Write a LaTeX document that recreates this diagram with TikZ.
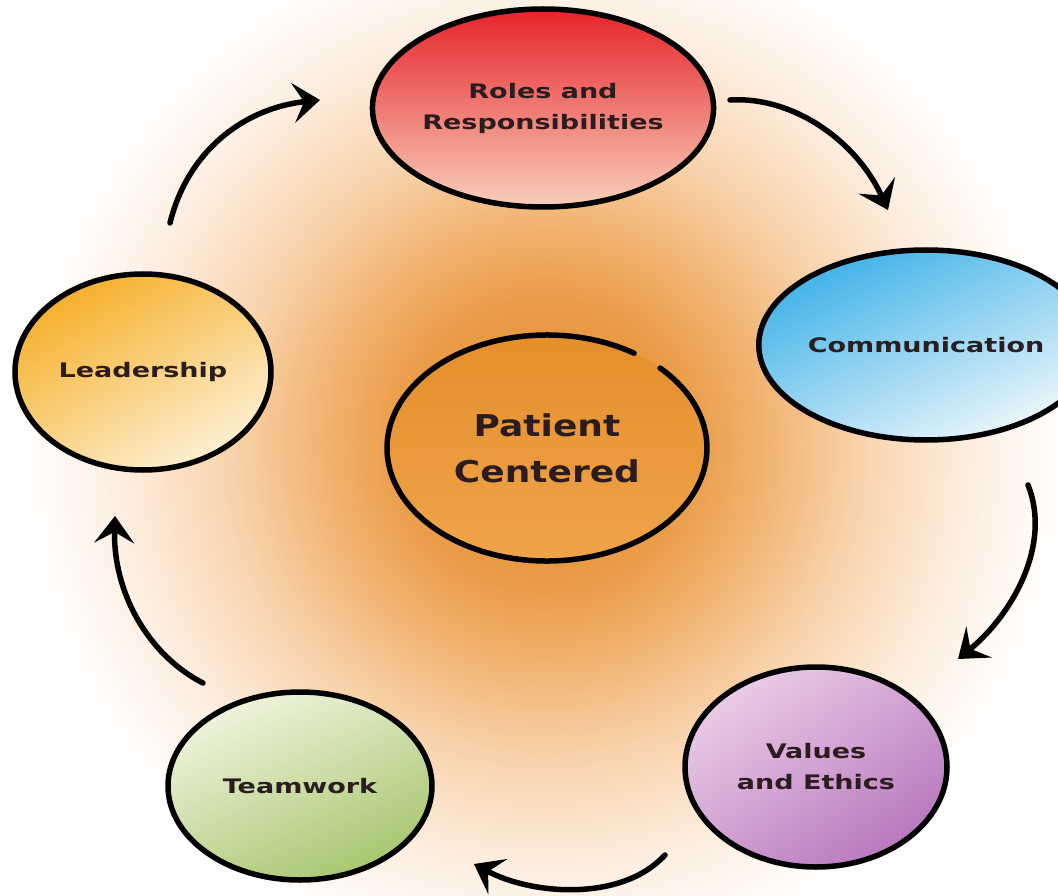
\documentclass[tikz,border=0pt]{standalone}
\usepackage{fontspec}
\newfontfamily\lblfont{DejaVu Sans}[FakeStretch=1.35]
\newfontfamily\ctrfont{DejaVu Sans}[FakeStretch=1.2]
\usetikzlibrary{shapes.geometric,arrows.meta,calc}
\definecolor{gcA}{HTML}{E58C2C}
\definecolor{gcB}{HTML}{EA9C48}
\definecolor{gcC}{HTML}{F2B676}
\definecolor{gcD}{HTML}{F8D2AA}
\definecolor{gcE}{HTML}{FDECDC}
\definecolor{txt}{HTML}{2B1D1F}
\definecolor{redT}{HTML}{E6232A}
\definecolor{redB}{HTML}{F9D0BC}
\definecolor{bluT}{HTML}{3FB2E8}
\definecolor{bluB}{HTML}{EEF7FB}
\definecolor{purT}{HTML}{EACCE6}
\definecolor{purB}{HTML}{B878BE}
\definecolor{grnT}{HTML}{F0F4DE}
\definecolor{grnB}{HTML}{A6C66E}
\definecolor{yelT}{HTML}{F6B02A}
\definecolor{yelB}{HTML}{FDF0D4}
\definecolor{ctrT}{HTML}{E58E2C}
\definecolor{ctrB}{HTML}{EFA44A}
\pgfdeclareradialshading{glow}{\pgfpoint{0bp}{0bp}}{color(0bp)=(gcA); color(7bp)=(gcB); color(11bp)=(gcC); color(15bp)=(gcD); color(20bp)=(gcE); color(25bp)=(white); color(50bp)=(white)}
\tikzset{
  bub/.style={ellipse, draw=black, line width=5.5pt, inner sep=0pt, align=center, text=txt,
    font=\lblfont\bfseries\fontsize{20}{31}\selectfont},
  ctrbub/.style={bub, draw=none, font=\ctrfont\bfseries\fontsize{30}{46}\selectfont},
  brush/.style={line width=5.5pt, line cap=round, draw=black},
  flow/.style={line width=5.5pt, line cap=round, -{Stealth[length=27pt,width=40pt,inset=11pt]}}
}
\begin{document}
\begin{tikzpicture}[x=1pt,y=-1pt]
\useasboundingbox (0,0) rectangle (1058,896);
\fill[white] (0,0) rectangle (1058,896);
\shade[shading=glow] (545,445) circle (520);

\node[bub, minimum width=302pt, minimum height=198pt, top color=redT, bottom color=redB] (roles) at (543,108) {Roles and\\Responsibilities};
\node[bub, minimum width=258pt, minimum height=190pt, top color=bluT, bottom color=bluB, shading angle=25] (comm) at (926,345) {Communication};
\node[bub, minimum width=262pt, minimum height=200pt, top color=purT, bottom color=purB, shading angle=35] (vals) at (816,767) {Values\\and Ethics};
\node[bub, minimum width=264pt, minimum height=188pt, top color=grnT, bottom color=grnB, shading angle=25] (team) at (300,786) {Teamwork};
\node[bub, minimum width=256pt, minimum height=196pt, top color=yelT, bottom color=yelB, shading angle=30] (lead) at (143,372) {Leadership};
\node[ctrbub, minimum width=320pt, minimum height=226pt, top color=ctrT, bottom color=ctrB] (pc) at (547,448) {Patient\\Centered};
% hand-drawn outline of the centre with its brush gap
\draw[brush] ($(pc.center)+({160*cos(-57)},{113*sin(-57)})$) arc[start angle=-57, end angle=-405, x radius=160, y radius=113];

\coordinate (a1s) at (170,223);
\coordinate (a1e) at (320,100);
\coordinate (a2s) at (730,100);
\coordinate (a2e) at (888,210);
\coordinate (a3s) at (1028,485);
\coordinate (a3e) at (958,659);
\coordinate (a4s) at (665,855);
\coordinate (a4e) at (474,864);
\coordinate (a5s) at (203,683);
\coordinate (a5e) at (115,516);

\draw[flow] (a1s) .. controls (188,150) and (245,108) .. (a1e);
\draw[flow] (a2s) .. controls (792,96) and (856,140) .. (a2e);
\draw[flow] (a3s) .. controls (1052,545) and (1012,615) .. (a3e);
\draw[flow] (a4s) .. controls (622,902) and (532,895) .. (a4e);
\draw[flow] (a5s) .. controls (148,655) and (113,592) .. (a5e);
\end{tikzpicture}
\end{document}
